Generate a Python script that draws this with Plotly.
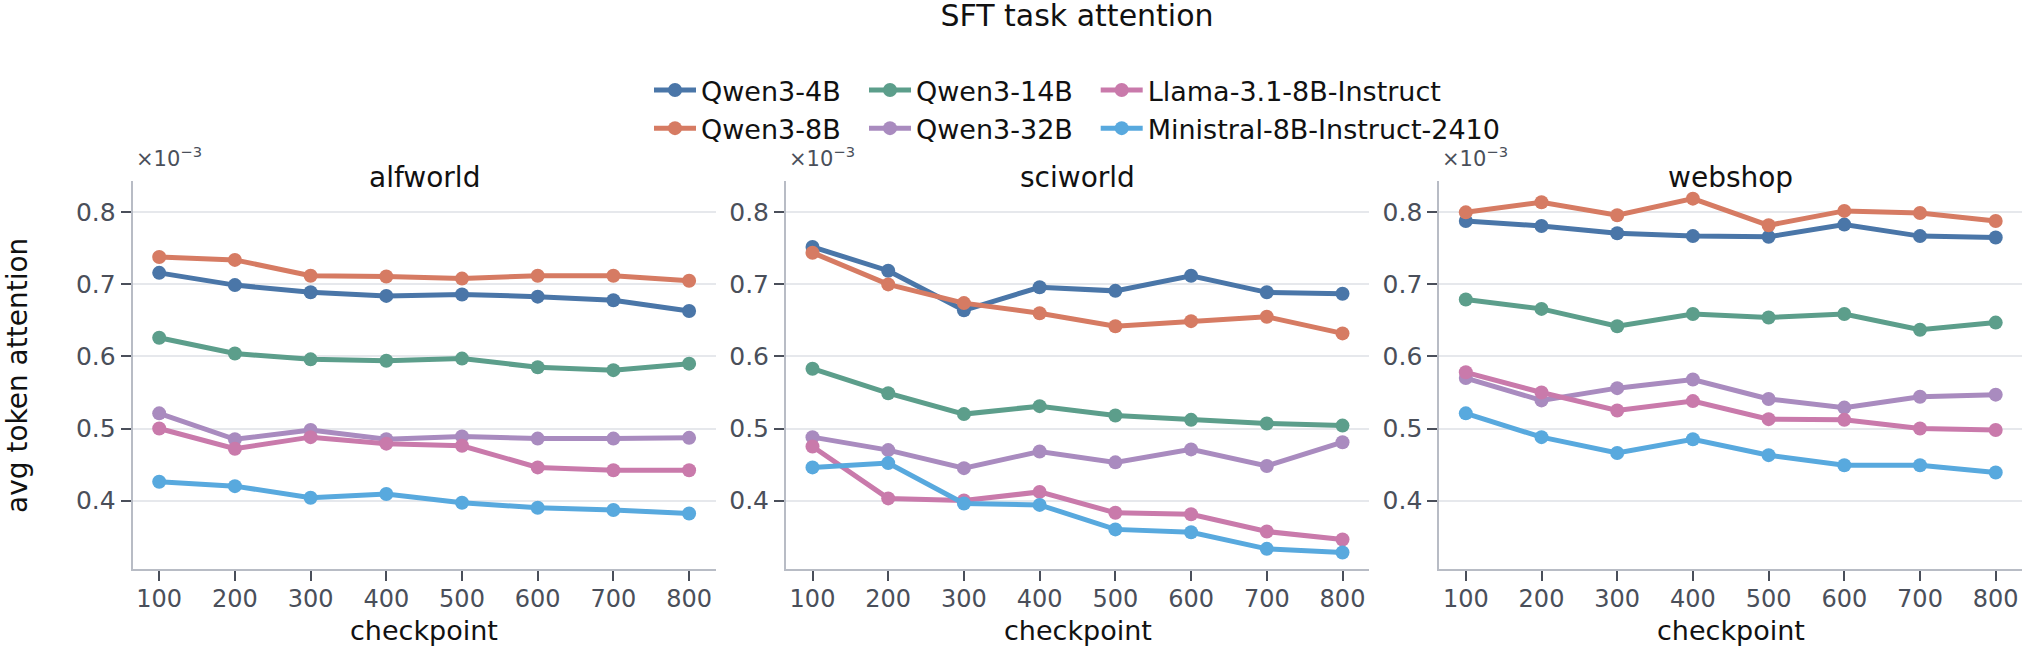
import plotly.graph_objects as go

checkpoints = [100, 200, 300, 400, 500, 600, 700, 800]
tasks = ["alfworld", "sciworld", "webshop"]
models = ["Qwen3-4B", "Qwen3-8B", "Qwen3-14B", "Qwen3-32B",
          "Llama-3.1-8B-Instruct", "Ministral-8B-Instruct-2410"]

# values in units of 1e-3
alfworld = {
    "Qwen3-4B": [0.716, 0.699, 0.689, 0.684, 0.686, 0.683, 0.678, 0.663],
    "Qwen3-8B": [0.738, 0.734, 0.712, 0.711, 0.708, 0.712, 0.712, 0.705],
    "Qwen3-14B": [0.626, 0.604, 0.596, 0.594, 0.597, 0.585, 0.581, 0.590],
    "Qwen3-32B": [0.521, 0.485, 0.498, 0.485, 0.489, 0.486, 0.486, 0.487],
    "Llama-3.1-8B-Instruct": [0.500, 0.472, 0.488, 0.479, 0.476, 0.446, 0.442, 0.442],
    "Ministral-8B-Instruct-2410": [0.426, 0.420, 0.404, 0.409, 0.397, 0.390, 0.387, 0.382],
}
sciworld = {
    "Qwen3-4B": [0.752, 0.719, 0.664, 0.696, 0.691, 0.712, 0.689, 0.687],
    "Qwen3-8B": [0.744, 0.700, 0.674, 0.660, 0.642, 0.649, 0.655, 0.632],
    "Qwen3-14B": [0.583, 0.549, 0.520, 0.531, 0.518, 0.512, 0.507, 0.504],
    "Qwen3-32B": [0.488, 0.470, 0.445, 0.468, 0.453, 0.471, 0.448, 0.481],
    "Llama-3.1-8B-Instruct": [0.475, 0.403, 0.400, 0.412, 0.383, 0.381, 0.357, 0.346],
    "Ministral-8B-Instruct-2410": [0.446, 0.452, 0.396, 0.394, 0.360, 0.356, 0.333, 0.328],
}
webshop = {
    "Qwen3-4B": [0.788, 0.781, 0.771, 0.767, 0.766, 0.783, 0.767, 0.765],
    "Qwen3-8B": [0.800, 0.814, 0.796, 0.819, 0.782, 0.802, 0.799, 0.788],
    "Qwen3-14B": [0.679, 0.666, 0.642, 0.659, 0.654, 0.659, 0.637, 0.647],
    "Qwen3-32B": [0.570, 0.539, 0.556, 0.568, 0.541, 0.529, 0.544, 0.547],
    "Llama-3.1-8B-Instruct": [0.578, 0.550, 0.525, 0.538, 0.513, 0.512, 0.500, 0.498],
    "Ministral-8B-Instruct-2410": [0.521, 0.488, 0.466, 0.485, 0.463, 0.449, 0.449, 0.439],
}
task_data = [alfworld, sciworld, webshop]

colors = {
    "Qwen3-4B": "#4a76a8",
    "Qwen3-8B": "#d67b63",
    "Qwen3-14B": "#5c9e8b",
    "Qwen3-32B": "#a98bbf",
    "Llama-3.1-8B-Instruct": "#c97aab",
    "Ministral-8B-Instruct-2410": "#58a9de",
}
legend_of = {
    "Qwen3-4B": "legend", "Qwen3-8B": "legend",
    "Qwen3-14B": "legend2", "Qwen3-32B": "legend2",
    "Llama-3.1-8B-Instruct": "legend3", "Ministral-8B-Instruct-2410": "legend3",
}

W, H = 2024, 647
FONT = "DejaVu Sans"
TICK_COLOR = "#4a4f5a"
TEXT_COLOR = "#111111"

x_domains = [(132.7, 715.6), (786.0, 1369.0), (1439.3, 2022.2)]
y_domain = [(H - 569.3) / H, (H - 180.7) / H]

fig = go.Figure()
for i, (task, data) in enumerate(zip(tasks, task_data)):
    axn = "" if i == 0 else str(i + 1)
    for m in models:
        fig.add_trace(go.Scatter(
            x=checkpoints, y=data[m], name=m, mode="lines+markers",
            line=dict(color=colors[m], width=5),
            marker=dict(color=colors[m], size=14),
            xaxis="x" + axn, yaxis="y" + axn,
            legend=legend_of[m], legendgroup=m, showlegend=(i == 0),
        ))

layout = dict(
    width=W, height=H,
    margin=dict(l=0, r=0, t=0, b=0),
    paper_bgcolor="white", plot_bgcolor="white",
    font=dict(family=FONT, color=TEXT_COLOR),
    showlegend=True,
    title=dict(text="SFT task attention", x=1077 / W, xanchor="center",
               xref="paper", yref="container", y=1 - 5 / H, yanchor="top",
               pad=dict(t=0, b=0, l=0, r=0),
               font=dict(size=30, color=TEXT_COLOR, family=FONT)),
)

for i in range(3):
    axn = "" if i == 0 else str(i + 1)
    x0, x1 = x_domains[i]
    layout["xaxis" + axn] = dict(
        domain=[x0 / W, x1 / W], range=[65, 835], anchor="y" + axn,
        tickmode="array", tickvals=checkpoints,
        ticktext=[str(c) for c in checkpoints],
        showgrid=False, zeroline=False,
        showline=True, linecolor="#b8bcc5", linewidth=2,
        ticks="outside", ticklen=10, tickwidth=2, tickcolor=TICK_COLOR,
        ticklabelstandoff=-3,
        tickfont=dict(size=24, color=TICK_COLOR, family=FONT),
    )
    layout["yaxis" + axn] = dict(
        domain=y_domain, range=[0.3046, 0.8439], anchor="x" + axn,
        tickmode="array", tickvals=[0.4, 0.5, 0.6, 0.7, 0.8],
        ticktext=["0.4", "0.5", "0.6", "0.7", "0.8"],
        showgrid=True, gridcolor="#e6e8ec", gridwidth=2, zeroline=False,
        showline=True, linecolor="#b8bcc5", linewidth=2,
        ticks="outside", ticklen=10, tickwidth=2, tickcolor=TICK_COLOR,
        tickfont=dict(size=25, color=TICK_COLOR, family=FONT),
    )

leg_common = dict(orientation="v", yanchor="top", y=1 - 66 / H, xanchor="left",
                  font=dict(size=27, color=TEXT_COLOR, family=FONT),
                  bgcolor="rgba(0,0,0,0)", borderwidth=0, itemwidth=42,
                  tracegroupgap=0, traceorder="normal")
layout["legend"] = dict(leg_common, x=(655 - 6) / W)
layout["legend2"] = dict(leg_common, x=(870 - 6) / W)
layout["legend3"] = dict(leg_common, x=(1101.7 - 6) / W)

annotations = []
for i, task in enumerate(tasks):
    x0, x1 = x_domains[i]
    annotations.append(dict(text=task, x=(x0 + x1) / 2 / W, y=1 - 177 / H,
                            xref="paper", yref="paper", xanchor="center",
                            yanchor="middle", showarrow=False,
                            font=dict(size=28, color=TEXT_COLOR, family=FONT)))
    annotations.append(dict(text="checkpoint", x=(x0 + x1) / 2 / W, y=1 - 630 / H,
                            xref="paper", yref="paper", xanchor="center",
                            yanchor="middle", showarrow=False,
                            font=dict(size=27, color=TEXT_COLOR, family=FONT)))
    annotations.append(dict(text="×10<sup>−3</sup>", x=(x0 + 1) / W, y=1 - 157 / H,
                            xref="paper", yref="paper", xanchor="left",
                            yanchor="middle", showarrow=False,
                            font=dict(size=21, color=TICK_COLOR, family=FONT)))
annotations.append(dict(text="avg token attention", x=17 / W, y=1 - 376 / H,
                        xref="paper", yref="paper", xanchor="center",
                        yanchor="middle", textangle=-90, showarrow=False,
                        font=dict(size=28, color=TEXT_COLOR, family=FONT)))
layout["annotations"] = annotations

fig.update_layout(**layout)
fig.write_html("out.html")
